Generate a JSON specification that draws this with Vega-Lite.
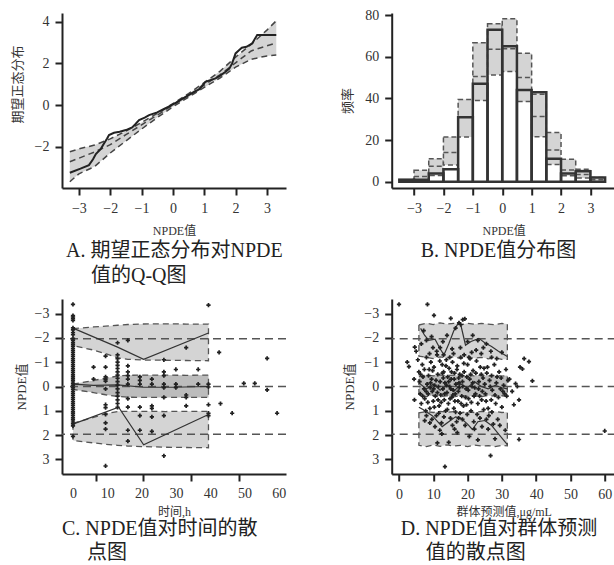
{
"$schema":"https://vega.github.io/schema/vega-lite/v6.json",
"background":"white",
"padding":{"left":11,"top":8,"right":0,"bottom":0},
"columns":2,
"spacing":{"row":111,"column":105.7},
"bounds":"flush",
"config":{
 "view":{"stroke":null},
 "axis":{"grid":false,"format":"d","labelFont":"Liberation Serif, Times New Roman, serif","labelFontSize":14,"labelColor":"#333","domainColor":"#222","domainWidth":2,"tickColor":"#222","tickWidth":2,"tickSize":7,"labelPadding":6,"labelFlush":false,"labelOverlap":false,"titleFont":"Liberation Serif, Times New Roman, serif, Noto Sans CJK SC","titleFontWeight":"normal","titleColor":"#333","titleFontSize":12},
 "title":{"orient":"bottom","anchor":"start","frame":"group","fontSize":20,"font":"Liberation Serif, Times New Roman, serif, Noto Sans CJK SC","fontWeight":"normal","color":"#222","lineHeight":24,"offset":2}
},
"datasets":{
 "qqBand":[{"x":-3.29,"lo":-3.68,"med":-2.72,"hi":-2.24},{"x":-3.0,"lo":-3.3,"med":-2.55,"hi":-2.1},{"x":-2.5,"lo":-2.95,"med":-2.25,"hi":-1.92},{"x":-2.0,"lo":-2.3,"med":-1.9,"hi":-1.62},{"x":-1.5,"lo":-1.72,"med":-1.42,"hi":-1.25},{"x":-1.0,"lo":-1.15,"med":-0.95,"hi":-0.83},{"x":-0.5,"lo":-0.6,"med":-0.48,"hi":-0.4},{"x":0,"lo":-0.08,"med":0,"hi":0.07},{"x":0.5,"lo":0.38,"med":0.47,"hi":0.55},{"x":1.0,"lo":0.85,"med":0.96,"hi":1.08},{"x":1.5,"lo":1.3,"med":1.45,"hi":1.62},{"x":2.0,"lo":1.82,"med":2.03,"hi":2.3},{"x":2.5,"lo":2.2,"med":2.6,"hi":2.92},{"x":3.0,"lo":2.36,"med":2.85,"hi":3.6},{"x":3.3,"lo":2.4,"med":2.98,"hi":4.05}],
 "qqObs":[{"x":-3.29,"y":-3.25},{"x":-2.95,"y":-3.05},{"x":-2.68,"y":-2.88},{"x":-2.55,"y":-2.6},{"x":-2.46,"y":-2.35},{"x":-2.3,"y":-2.1},{"x":-2.2,"y":-1.84},{"x":-2.1,"y":-1.6},{"x":-2.04,"y":-1.44},{"x":-1.88,"y":-1.33},{"x":-1.7,"y":-1.28},{"x":-1.5,"y":-1.2},{"x":-1.3,"y":-1.07},{"x":-1.2,"y":-0.92},{"x":-1.08,"y":-0.72},{"x":-0.9,"y":-0.6},{"x":-0.76,"y":-0.48},{"x":-0.5,"y":-0.35},{"x":-0.3,"y":-0.2},{"x":-0.1,"y":-0.05},{"x":0.1,"y":0.12},{"x":0.3,"y":0.3},{"x":0.5,"y":0.48},{"x":0.7,"y":0.65},{"x":0.83,"y":0.75},{"x":0.95,"y":0.95},{"x":1.04,"y":1.12},{"x":1.2,"y":1.2},{"x":1.36,"y":1.28},{"x":1.5,"y":1.4},{"x":1.68,"y":1.6},{"x":1.8,"y":1.75},{"x":1.89,"y":2.0},{"x":2.0,"y":2.48},{"x":2.1,"y":2.62},{"x":2.2,"y":2.75},{"x":2.35,"y":2.8},{"x":2.53,"y":2.96},{"x":2.69,"y":3.36},{"x":3.3,"y":3.36}],
 "hist":[{"x0":-3.5,"x1":-3.0,"n":1,"lo":0,"med":0.3,"hi":1},{"x0":-3.0,"x1":-2.5,"n":1,"lo":0.3,"med":2.5,"hi":5.5},{"x0":-2.5,"x1":-2.0,"n":4,"lo":3,"med":7.5,"hi":11},{"x0":-2.0,"x1":-1.5,"n":6,"lo":8,"med":14,"hi":21.5},{"x0":-1.5,"x1":-1.0,"n":31,"lo":21.5,"med":31,"hi":39.5},{"x0":-1.0,"x1":-0.5,"n":47,"lo":39,"med":50.5,"hi":66.7},{"x0":-0.5,"x1":0,"n":73,"lo":51.3,"med":63.6,"hi":75.8},{"x0":0,"x1":0.5,"n":65,"lo":52.9,"med":63.8,"hi":78.2},{"x0":0.5,"x1":1.0,"n":44,"lo":38.5,"med":50,"hi":61.7},{"x0":1.0,"x1":1.5,"n":43,"lo":21.6,"med":31.3,"hi":42},{"x0":1.5,"x1":2.0,"n":11,"lo":8.3,"med":15.2,"hi":23.6},{"x0":2.0,"x1":2.5,"n":4,"lo":2.9,"med":5.6,"hi":10.8},{"x0":2.5,"x1":3.0,"n":5,"lo":1.8,"med":3.5,"hi":6},{"x0":3.0,"x1":3.5,"n":2,"lo":0,"med":1,"hi":2}],
 "ref":[{"v":-1.96},{"v":0},{"v":1.96}],
 "cBand":[{"band":"u","t":0,"lo":-2.38,"hi":-1.68},{"band":"u","t":6,"lo":-2.45,"hi":-1.5},{"band":"u","t":9.5,"lo":-2.48,"hi":-1.35},{"band":"u","t":13,"lo":-2.52,"hi":-1.18},{"band":"u","t":16,"lo":-2.55,"hi":-1.12},{"band":"u","t":20,"lo":-2.57,"hi":-1.09},{"band":"u","t":27,"lo":-2.58,"hi":-1.08},{"band":"u","t":33,"lo":-2.57,"hi":-1.07},{"band":"u","t":39.5,"lo":-2.57,"hi":-1.06},
  {"band":"m","t":0,"lo":-0.1,"hi":0.12},{"band":"m","t":6,"lo":-0.25,"hi":0.25},{"band":"m","t":9.5,"lo":-0.34,"hi":0.34},{"band":"m","t":13,"lo":-0.43,"hi":0.41},{"band":"m","t":16,"lo":-0.46,"hi":0.44},{"band":"m","t":20,"lo":-0.47,"hi":0.45},{"band":"m","t":27,"lo":-0.47,"hi":0.45},{"band":"m","t":33,"lo":-0.46,"hi":0.45},{"band":"m","t":39.5,"lo":-0.47,"hi":0.45},
  {"band":"l","t":0,"lo":1.52,"hi":2.22},{"band":"l","t":6,"lo":1.27,"hi":2.32},{"band":"l","t":9.5,"lo":1.12,"hi":2.38},{"band":"l","t":13,"lo":1.03,"hi":2.42},{"band":"l","t":16,"lo":1.02,"hi":2.45},{"band":"l","t":20,"lo":1.02,"hi":2.47},{"band":"l","t":27,"lo":1.03,"hi":2.5},{"band":"l","t":33,"lo":1.02,"hi":2.51},{"band":"l","t":39.5,"lo":1.02,"hi":2.52}],
 "cObs":[{"q":"hi","t":0,"v":-2.4},{"q":"hi","t":13,"v":-1.62},{"q":"hi","t":20.6,"v":-1.12},{"q":"hi","t":39.5,"v":-2.2},
  {"q":"mid","t":0,"v":-0.1},{"q":"mid","t":6,"v":-0.05},{"q":"mid","t":13,"v":-0.07},{"q":"mid","t":20.6,"v":0.03},{"q":"mid","t":29,"v":0.03},{"q":"mid","t":39.5,"v":0},
  {"q":"lo","t":0,"v":1.55},{"q":"lo","t":13.3,"v":0.85},{"q":"lo","t":20.6,"v":2.4},{"q":"lo","t":39.5,"v":1.15}],
 "cPts":[{"t":0,"v":-3.38},{"t":0,"v":-2.92},{"t":0,"v":-2.86},{"t":0,"v":-2.79},{"t":0,"v":-2.72},{"t":0,"v":-2.41},{"t":0,"v":-2.33},{"t":0,"v":-2.22},{"t":0,"v":-2.13},{"t":0,"v":-1.98},{"t":0,"v":-1.91},{"t":0,"v":-1.82},{"t":0,"v":-1.74},{"t":0,"v":-1.66},{"t":0,"v":-1.57},{"t":0,"v":-1.49},{"t":0,"v":-1.41},{"t":0,"v":-1.32},{"t":0,"v":-1.24},{"t":0,"v":-1.15},{"t":0,"v":-1.07},{"t":0,"v":-0.99},{"t":0,"v":-0.9},{"t":0,"v":-0.82},{"t":0,"v":-0.73},{"t":0,"v":-0.65},{"t":0,"v":-0.57},{"t":0,"v":-0.48},{"t":0,"v":-0.4},{"t":0,"v":-0.31},{"t":0,"v":-0.23},{"t":0,"v":-0.14},{"t":0,"v":-0.06},{"t":0,"v":0.03},{"t":0,"v":0.11},{"t":0,"v":0.2},{"t":0,"v":0.28},{"t":0,"v":0.36},{"t":0,"v":0.45},{"t":0,"v":0.53},{"t":0,"v":0.62},{"t":0,"v":0.7},{"t":0,"v":0.78},{"t":0,"v":0.87},{"t":0,"v":0.95},{"t":0,"v":1.04},{"t":0,"v":1.12},{"t":0,"v":1.2},{"t":0,"v":1.29},{"t":0,"v":1.37},{"t":0,"v":1.46},{"t":0,"v":1.54},{"t":0,"v":1.62},{"t":0,"v":2.05},
  {"t":6,"v":-0.8},{"t":6,"v":-0.3},
  {"t":9.5,"v":-1.25},{"t":9.5,"v":-0.8},{"t":9.5,"v":-0.4},{"t":9.5,"v":-0.3},{"t":9.5,"v":-0.22},{"t":9.5,"v":0.1},{"t":9.5,"v":0.75},{"t":9.5,"v":0.87},{"t":9.5,"v":1.15},{"t":9.5,"v":1.5},{"t":9.5,"v":1.75},{"t":9.5,"v":3.27},
  {"t":13,"v":-1.8},{"t":13,"v":-1.3},{"t":13,"v":-1.15},{"t":13,"v":-1.0},{"t":13,"v":-0.87},{"t":13,"v":-0.74},{"t":13,"v":-0.6},{"t":13,"v":-0.47},{"t":13,"v":-0.34},{"t":13,"v":-0.2},{"t":13,"v":-0.06},{"t":13,"v":0.1},{"t":13,"v":0.25},{"t":13,"v":0.4},{"t":13,"v":0.55},{"t":13,"v":0.7},{"t":13,"v":0.86},
  {"t":16,"v":-1.9},{"t":16,"v":-0.85},{"t":16,"v":-0.6},{"t":16,"v":-0.45},{"t":16,"v":-0.3},{"t":16,"v":-0.1},{"t":16,"v":0.5},{"t":16,"v":0.85},{"t":16,"v":1.8},{"t":16,"v":2.25},
  {"t":19.5,"v":-0.4},{"t":19.5,"v":-0.25},{"t":19.5,"v":-0.1},{"t":19.5,"v":0.85},{"t":19.5,"v":1.2},{"t":19.5,"v":1.8},
  {"t":23,"v":-0.3},{"t":23,"v":-0.1},{"t":23,"v":0.8},{"t":23,"v":0.9},{"t":23,"v":1.25},{"t":23,"v":1.85},
  {"t":26.5,"v":-1.1},{"t":26.5,"v":-0.6},{"t":26.5,"v":-0.45},{"t":26.5,"v":-0.1},{"t":26.5,"v":0.05},{"t":26.5,"v":0.45},{"t":26.5,"v":1.2},{"t":26.5,"v":2.85},
  {"t":30,"v":-0.7},{"t":30,"v":-0.1},{"t":30,"v":0.05},
  {"t":33,"v":-1.6},{"t":33,"v":0.35},{"t":33,"v":0.45},{"t":33,"v":0.8},
  {"t":36.5,"v":-0.7},{"t":36.5,"v":-0.1},
  {"t":39.5,"v":-3.35},{"t":39.5,"v":-0.1},{"t":39.5,"v":0.02},{"t":39.5,"v":0.75},{"t":39.5,"v":1.1},{"t":39.5,"v":1.2},
  {"t":42.6,"v":-1.4},{"t":43,"v":0.7},{"t":46.4,"v":1.1},{"t":49.8,"v":-0.13},{"t":53,"v":-0.13},{"t":56.6,"v":-1.16},{"t":56.6,"v":0.14},{"t":59.5,"v":1.1}],
 "dBand":[{"band":"u","p":5.8,"lo":-2.53,"hi":-1.25},{"band":"u","p":8,"lo":-2.6,"hi":-1.2},{"band":"u","p":10,"lo":-2.55,"hi":-1.15},{"band":"u","p":12,"lo":-2.62,"hi":-1.22},{"band":"u","p":14,"lo":-2.57,"hi":-1.17},{"band":"u","p":16,"lo":-2.6,"hi":-1.22},{"band":"u","p":18,"lo":-2.54,"hi":-1.15},{"band":"u","p":20,"lo":-2.6,"hi":-1.2},{"band":"u","p":22,"lo":-2.56,"hi":-1.16},{"band":"u","p":24,"lo":-2.6,"hi":-1.2},{"band":"u","p":26,"lo":-2.57,"hi":-1.14},{"band":"u","p":28,"lo":-2.54,"hi":-1.18},{"band":"u","p":30,"lo":-2.6,"hi":-1.12},{"band":"u","p":31.6,"lo":-2.57,"hi":-1.12},
  {"band":"m","p":5.8,"lo":-0.42,"hi":0.38},{"band":"m","p":8,"lo":-0.47,"hi":0.42},{"band":"m","p":10,"lo":-0.44,"hi":0.36},{"band":"m","p":12,"lo":-0.48,"hi":0.41},{"band":"m","p":14,"lo":-0.45,"hi":0.38},{"band":"m","p":16,"lo":-0.47,"hi":0.43},{"band":"m","p":18,"lo":-0.43,"hi":0.37},{"band":"m","p":20,"lo":-0.46,"hi":0.41},{"band":"m","p":22,"lo":-0.44,"hi":0.38},{"band":"m","p":24,"lo":-0.47,"hi":0.42},{"band":"m","p":26,"lo":-0.44,"hi":0.37},{"band":"m","p":28,"lo":-0.46,"hi":0.4},{"band":"m","p":30,"lo":-0.43,"hi":0.38},{"band":"m","p":31.6,"lo":-0.45,"hi":0.41},
  {"band":"l","p":5.8,"lo":1.08,"hi":2.42},{"band":"l","p":8,"lo":1.03,"hi":2.47},{"band":"l","p":10,"lo":1.07,"hi":2.41},{"band":"l","p":12,"lo":1.02,"hi":2.46},{"band":"l","p":14,"lo":1.06,"hi":2.4},{"band":"l","p":16,"lo":1.03,"hi":2.45},{"band":"l","p":18,"lo":1.08,"hi":2.42},{"band":"l","p":20,"lo":1.04,"hi":2.47},{"band":"l","p":22,"lo":1.07,"hi":2.41},{"band":"l","p":24,"lo":1.02,"hi":2.45},{"band":"l","p":26,"lo":1.06,"hi":2.43},{"band":"l","p":28,"lo":1.03,"hi":2.47},{"band":"l","p":30,"lo":1.07,"hi":2.42},{"band":"l","p":31.6,"lo":1.05,"hi":2.44}],
 "dObs":[{"q":"hi","p":6.3,"v":-2.39},{"q":"hi","p":7.5,"v":-2.1},{"q":"hi","p":8.7,"v":-1.9},{"q":"hi","p":10.5,"v":-1.95},{"q":"hi","p":12,"v":-1.55},{"q":"hi","p":13.1,"v":-1.3},{"q":"hi","p":14.5,"v":-1.75},{"q":"hi","p":16,"v":-2.3},{"q":"hi","p":17.5,"v":-2.66},{"q":"hi","p":18,"v":-2.55},{"q":"hi","p":19.4,"v":-1.7},{"q":"hi","p":21,"v":-1.85},{"q":"hi","p":23.3,"v":-1.98},{"q":"hi","p":25,"v":-1.8},{"q":"hi","p":27,"v":-1.65},{"q":"hi","p":29,"v":-1.45},{"q":"hi","p":31.6,"v":-1.23},
  {"q":"mid","p":5.8,"v":-0.15},{"q":"mid","p":8,"v":0.1},{"q":"mid","p":10,"v":-0.1},{"q":"mid","p":12,"v":0.15},{"q":"mid","p":14,"v":-0.05},{"q":"mid","p":16,"v":0.2},{"q":"mid","p":18,"v":-0.1},{"q":"mid","p":20,"v":0.05},{"q":"mid","p":22,"v":-0.2},{"q":"mid","p":24,"v":0},{"q":"mid","p":26,"v":0.1},{"q":"mid","p":28,"v":-0.05},{"q":"mid","p":30,"v":0.05},{"q":"mid","p":31.6,"v":0.1},
  {"q":"lo","p":5.8,"v":0.85},{"q":"lo","p":7,"v":0.95},{"q":"lo","p":9.7,"v":1.2},{"q":"lo","p":12.6,"v":1.65},{"q":"lo","p":14.5,"v":1.45},{"q":"lo","p":16.5,"v":1.25},{"q":"lo","p":18,"v":1.3},{"q":"lo","p":20,"v":1.55},{"q":"lo","p":21.4,"v":1.77},{"q":"lo","p":23,"v":1.45},{"q":"lo","p":25,"v":1.4},{"q":"lo","p":27,"v":1.6},{"q":"lo","p":29,"v":1.95},{"q":"lo","p":31.6,"v":2.39}],
 "dPts":[{"p":0,"v":-3.38},{"p":8.3,"v":-3.38},{"p":10.2,"v":-2.93},{"p":15.1,"v":-2.8},{"p":18.6,"v":-2.75},{"p":19.2,"v":-2.78},{"p":2.4,"v":-1.0},{"p":2.9,"v":-0.82},{"p":4.6,"v":-1.62},{"p":5.0,"v":-1.45},{"p":4.4,"v":-0.3},{"p":4.5,"v":0.55},{"p":35.3,"v":-0.8},{"p":36.0,"v":-0.72},{"p":37.9,"v":-1.02},{"p":38.9,"v":-0.23},{"p":34.0,"v":-0.12},{"p":34.5,"v":0.0},{"p":35.0,"v":0.55},{"p":35.0,"v":2.18},{"p":26.7,"v":2.84},{"p":13.4,"v":3.3},{"p":11.2,"v":2.32},{"p":60,"v":1.83},{"p":33.5,"v":0.75},{"p":36.5,"v":-1.15},{"p":32.2,"v":-0.3},{"p":33,"v":0.2},
  {"p":7.2,"v":-2.3},{"p":8.0,"v":-1.9},{"p":9.5,"v":-2.05},{"p":12.0,"v":-1.6},{"p":14.0,"v":-2.1},{"p":16.5,"v":-2.4},{"p":17.5,"v":-2.62},{"p":18.0,"v":-2.55},{"p":20.0,"v":-1.85},{"p":21.5,"v":-2.1},{"p":22.5,"v":-1.5},{"p":24.0,"v":-1.35},{"p":25.5,"v":-1.75},{"p":27.0,"v":-1.2},{"p":28.5,"v":-1.15},{"p":30.0,"v":-1.4},{"p":6.5,"v":-1.75},{"p":11.0,"v":-1.45},{"p":13.0,"v":-1.3},{"p":15.5,"v":-1.55},{"p":19.0,"v":-1.3},{"p":23.0,"v":-1.9},
  {"p":5.5,"v":-1.1},{"p":5.8,"v":-0.6},{"p":6.0,"v":-0.2},{"p":6.2,"v":0.3},{"p":6.5,"v":0.7},{"p":6.8,"v":-0.9},{"p":7.0,"v":-0.4},{"p":7.3,"v":0.1},{"p":7.5,"v":0.5},{"p":7.8,"v":1.0},{"p":8.0,"v":-1.2},{"p":8.2,"v":-0.1},{"p":8.5,"v":0.3},{"p":8.8,"v":-0.7},{"p":9.0,"v":0.9},
  {"p":9.3,"v":-1.0},{"p":9.5,"v":-0.3},{"p":9.7,"v":0.2},{"p":10.0,"v":0.6},{"p":10.2,"v":-0.8},{"p":10.4,"v":-0.05},{"p":10.6,"v":0.4},{"p":10.9,"v":1.2},{"p":11.1,"v":-1.3},{"p":11.3,"v":-0.5},{"p":11.5,"v":0.0},{"p":11.7,"v":0.8},{"p":12.0,"v":-0.2},{"p":12.2,"v":0.35},{"p":12.4,"v":1.5},{"p":12.6,"v":-0.9},
  {"p":12.8,"v":0.1},{"p":13.0,"v":-0.6},{"p":13.2,"v":0.55},{"p":13.4,"v":-0.15},{"p":13.6,"v":1.0},{"p":13.8,"v":-1.1},{"p":14.0,"v":0.25},{"p":14.2,"v":-0.4},{"p":14.4,"v":0.7},{"p":14.6,"v":-0.75},{"p":14.8,"v":0.0},{"p":15.0,"v":1.3},{"p":15.2,"v":-0.3},{"p":15.4,"v":0.45},{"p":15.6,"v":-1.0},{"p":15.8,"v":0.15},{"p":16.0,"v":0.9},
  {"p":16.2,"v":-0.55},{"p":16.4,"v":0.3},{"p":16.6,"v":-0.1},{"p":16.8,"v":1.45},{"p":17.0,"v":-0.85},{"p":17.2,"v":0.6},{"p":17.4,"v":-0.35},{"p":17.6,"v":0.05},{"p":17.8,"v":1.1},{"p":18.0,"v":-1.2},{"p":18.3,"v":0.4},{"p":18.5,"v":-0.2},{"p":18.8,"v":0.8},{"p":19.0,"v":-0.6},{"p":19.3,"v":1.6},{"p":19.6,"v":0.1},
  {"p":20.0,"v":-0.9},{"p":20.3,"v":0.5},{"p":20.6,"v":-0.3},{"p":21.0,"v":1.0},{"p":21.3,"v":0.0},{"p":21.6,"v":-0.65},{"p":22.0,"v":1.75},{"p":22.3,"v":0.3},{"p":22.6,"v":-1.05},{"p":23.0,"v":0.7},{"p":23.3,"v":-0.2},{"p":23.6,"v":1.3},{"p":24.0,"v":-0.5},{"p":24.3,"v":0.2},{"p":24.7,"v":0.95},{"p":25.0,"v":-0.1},
  {"p":25.4,"v":0.6},{"p":25.8,"v":-0.8},{"p":26.2,"v":1.2},{"p":26.6,"v":0.0},{"p":27.0,"v":-0.45},{"p":27.5,"v":1.55},{"p":28.0,"v":0.35},{"p":28.4,"v":-0.15},{"p":28.8,"v":1.35},{"p":29.2,"v":-0.6},{"p":29.6,"v":0.1},{"p":30.0,"v":0.85},{"p":30.5,"v":-0.05},{"p":31.0,"v":1.8},{"p":31.4,"v":0.4},{"p":31.8,"v":-0.25},
  {"p":7.5,"v":1.4},{"p":9.0,"v":1.5},{"p":10.5,"v":1.65},{"p":12.5,"v":1.95},{"p":14.5,"v":2.3},{"p":17.0,"v":1.9},{"p":20.5,"v":2.05},{"p":23.0,"v":2.2},{"p":26.0,"v":1.75},{"p":28.0,"v":2.15},{"p":8.0,"v":1.2},{"p":18.5,"v":1.35},
  {"p":8.6,"v":-0.45},{"p":9.1,"v":0.05},{"p":9.8,"v":-0.65},{"p":10.3,"v":0.85},{"p":10.8,"v":-0.25},{"p":11.4,"v":0.55},{"p":11.9,"v":-1.05},{"p":12.3,"v":0.65},{"p":12.9,"v":-0.35},{"p":13.3,"v":0.3},{"p":13.7,"v":-0.85},{"p":14.1,"v":0.95},{"p":14.5,"v":-0.2},{"p":14.9,"v":0.5},{"p":15.3,"v":-0.6},{"p":15.7,"v":0.35},{"p":16.1,"v":-0.3},{"p":16.5,"v":1.05},{"p":16.9,"v":-0.7},{"p":17.3,"v":0.2},{"p":17.7,"v":-0.5},{"p":18.1,"v":0.7},{"p":18.6,"v":0.0},{"p":18.9,"v":-0.95},{"p":19.4,"v":0.45},{"p":19.8,"v":-0.4},{"p":20.2,"v":0.15},{"p":20.7,"v":-1.15},{"p":21.1,"v":0.65},{"p":21.5,"v":-0.15},{"p":21.9,"v":0.4},{"p":22.4,"v":-0.55},{"p":22.8,"v":1.15},{"p":23.2,"v":0.1},{"p":23.7,"v":-0.8},{"p":24.1,"v":0.55},{"p":24.5,"v":-0.35},{"p":25.2,"v":0.3},{"p":25.6,"v":-0.55},{"p":26.0,"v":0.9},{"p":26.4,"v":-0.25},{"p":27.2,"v":0.15},{"p":27.8,"v":-0.9},{"p":28.2,"v":0.7},{"p":29.0,"v":0.45},{"p":29.8,"v":-0.35},{"p":30.3,"v":0.2},{"p":31.2,"v":-0.7},
  {"p":6.3,"v":-0.5},{"p":6.9,"v":0.4},{"p":7.4,"v":-0.7},{"p":7.9,"v":0.2},{"p":8.4,"v":0.65},{"p":9.2,"v":-0.15},{"p":10.1,"v":0.1},{"p":11.2,"v":0.25},{"p":12.7,"v":-0.55},{"p":13.9,"v":-0.05},{"p":15.1,"v":0.1},{"p":16.3,"v":0.6},{"p":17.5,"v":-0.15},{"p":18.4,"v":-0.45},{"p":19.7,"v":0.75},{"p":20.9,"v":-0.5},{"p":22.1,"v":0.05},{"p":23.5,"v":0.4},{"p":24.8,"v":-0.75},{"p":26.9,"v":0.55},{"p":28.6,"v":-0.4},{"p":30.8,"v":0.3},
  {"p":9.9,"v":-1.6},{"p":12.8,"v":-1.85},{"p":15.9,"v":-1.35},{"p":17.9,"v":-1.6},{"p":21.2,"v":-1.4},{"p":24.6,"v":-1.6},{"p":26.8,"v":-1.45},{"p":8.9,"v":-1.35},{"p":14.8,"v":-1.2},{"p":20.4,"v":-1.2},
  {"p":9.6,"v":1.35},{"p":11.6,"v":1.1},{"p":13.1,"v":1.25},{"p":15.6,"v":1.6},{"p":17.4,"v":1.3},{"p":19.9,"v":1.15},{"p":21.8,"v":1.45},{"p":24.2,"v":1.65},{"p":27.1,"v":1.05},{"p":29.4,"v":1.6},{"p":11.9,"v":1.8},{"p":16.2,"v":1.75},{"p":25.5,"v":1.35}]
},
"concat":[
 {"width":224,"height":175,
  "title":{"text":["A. 期望正态分布对NPDE","\u200b\u3000\u00a0值的Q-Q图"],"dx":4,"offset":5,"lineHeight":25},
  "layer":[
   {"data":{"name":"qqBand"},"mark":{"type":"area","fill":"#d4d4d4"},
    "encoding":{"x":{"field":"x","type":"quantitative","scale":{"domain":[-3.54,3.61],"nice":false,"zero":false},"axis":{"values":[-3,-2,-1,0,1,2,3],"format":"d","tickCount":20,"labelOverlap":false,"title":"NPDE值","titleY":42,"titleBaseline":"middle"}},
     "y":{"field":"lo","type":"quantitative","scale":{"domain":[-3.98,4.42],"nice":false,"zero":false},"axis":{"values":[-2,0,2,4],"format":"d","tickCount":20,"labelOverlap":false,"title":"期望正态分布","titleX":-45,"titleY":71,"titleBaseline":"middle","titleFontSize":13}},"y2":{"field":"hi"}}},
   {"data":{"name":"qqBand"},"mark":{"type":"line","stroke":"#444","strokeWidth":1.5,"strokeDash":[6,4]},
    "encoding":{"x":{"field":"x","type":"quantitative","scale":{"domain":[-3.54,3.61],"nice":false,"zero":false}},"y":{"field":"hi","type":"quantitative","scale":{"domain":[-3.98,4.42],"nice":false,"zero":false}}}},
   {"data":{"name":"qqBand"},"mark":{"type":"line","stroke":"#444","strokeWidth":1.5,"strokeDash":[6,4]},
    "encoding":{"x":{"field":"x","type":"quantitative","scale":{"domain":[-3.54,3.61],"nice":false,"zero":false}},"y":{"field":"lo","type":"quantitative","scale":{"domain":[-3.98,4.42],"nice":false,"zero":false}}}},
   {"data":{"name":"qqBand"},"mark":{"type":"line","stroke":"#444","strokeWidth":1.5,"strokeDash":[6,4]},
    "encoding":{"x":{"field":"x","type":"quantitative","scale":{"domain":[-3.54,3.61],"nice":false,"zero":false}},"y":{"field":"med","type":"quantitative","scale":{"domain":[-3.98,4.42],"nice":false,"zero":false}}}},
   {"data":{"name":"qqObs"},"mark":{"type":"line","stroke":"#222","strokeWidth":2},
    "encoding":{"x":{"field":"x","type":"quantitative","scale":{"domain":[-3.54,3.61],"nice":false,"zero":false}},"y":{"field":"y","type":"quantitative","scale":{"domain":[-3.98,4.42],"nice":false,"zero":false}}}}
  ]},
 {"width":224,"height":175,
  "title":{"text":"B. NPDE值分布图","dx":29,"offset":5},
  "layer":[
   {"data":{"name":"hist"},"mark":{"type":"rect","fill":"#d4d4d4","stroke":"#555","strokeWidth":1.5,"strokeDash":[5,3]},
    "encoding":{"x":{"field":"x0","type":"quantitative","scale":{"domain":[-3.76,3.86],"nice":false,"zero":false},"axis":{"values":[-3,-2,-1,0,1,2,3],"format":"d","tickCount":20,"labelOverlap":false,"title":"NPDE值","titleY":42,"titleBaseline":"middle"}},"x2":{"field":"x1"},
     "y":{"field":"lo","type":"quantitative","scale":{"domain":[-3,81],"nice":false,"zero":false},"axis":{"values":[0,20,40,60,80],"format":"d","tickCount":20,"labelOverlap":false,"title":"频率","titleX":-44.7,"titleBaseline":"middle","titleFontSize":13}},"y2":{"field":"hi"}}},
   {"data":{"name":"hist"},"mark":{"type":"rule","stroke":"#555","strokeWidth":1.5,"strokeDash":[5,3]},
    "encoding":{"x":{"field":"x0","type":"quantitative","scale":{"domain":[-3.76,3.86],"nice":false,"zero":false}},"x2":{"field":"x1"},"y":{"field":"med","type":"quantitative","scale":{"domain":[-3,81],"nice":false,"zero":false}}}},
   {"data":{"name":"hist"},"mark":{"type":"rect","filled":false,"stroke":"#333","strokeWidth":2.5},
    "encoding":{"x":{"field":"x0","type":"quantitative","scale":{"domain":[-3.76,3.86],"nice":false,"zero":false}},"x2":{"field":"x1"},"y":{"field":"n","type":"quantitative","scale":{"domain":[-3,81],"nice":false,"zero":false}},"y2":{"datum":0}}}
  ]},
 {"width":224,"height":175,
  "title":{"text":["C. NPDE值对时间的散","\u200b\u3000\u00a0点图"],"dx":0},
  "resolve":{"axis":{"x":"independent"}},
  "layer":[
   {"data":{"name":"cBand"},"mark":{"type":"area","stroke":"#555","strokeWidth":1.3,"strokeDash":[6,4]},
    "encoding":{"x":{"field":"t","type":"quantitative","scale":{"domain":[-3.2,62.1],"nice":false,"zero":false},"axis":{"orient":"bottom","values":[0,10,20,30,40,50,60],"format":"d","tickCount":20,"labelOverlap":false,"ticks":false,"title":"时间,h","titleY":37,"titleBaseline":"middle","labelPadding":12}},
     "y":{"field":"lo","type":"quantitative","scale":{"domain":[-3.6,3.6],"reverse":true,"nice":false,"zero":false},"axis":{"values":[-3,-2,-1,0,1,2,3],"format":"d","tickCount":20,"labelOverlap":false,"title":"NPDE值","titleX":-40.5,"titleBaseline":"middle","titleFontSize":13}},"y2":{"field":"hi"},
     "fill":{"field":"band","type":"nominal","scale":{"domain":["u","m","l"],"range":["#d4d4d4","#bcbcbc","#d4d4d4"]},"legend":null},"detail":{"field":"band"}}},
   {"data":{"name":"ref"},"mark":{"type":"rule","stroke":"#555","strokeWidth":1.5,"strokeDash":[8,5]},
    "encoding":{"y":{"field":"v","type":"quantitative","scale":{"domain":[-3.6,3.6],"reverse":true,"nice":false,"zero":false}}}},
   {"data":{"name":"cObs"},"mark":{"type":"line","stroke":"#333","strokeWidth":1.2},
    "encoding":{"x":{"field":"t","type":"quantitative","scale":{"domain":[-3.2,62.1],"nice":false,"zero":false},"axis":null},"y":{"field":"v","type":"quantitative","scale":{"domain":[-3.6,3.6],"reverse":true,"nice":false,"zero":false}},"detail":{"field":"q"}}},
   {"data":{"name":"cPts"},"mark":{"type":"point","shape":"cross","filled":true,"size":18,"color":"#222","opacity":1},
    "encoding":{"x":{"field":"t","type":"quantitative","scale":{"domain":[-3.2,62.1],"nice":false,"zero":false},"axis":{"orient":"bottom","values":[6.6,20.5,34.4,48.3],"tickCount":20,"labels":false,"domain":false,"title":null}},"y":{"field":"v","type":"quantitative","scale":{"domain":[-3.6,3.6],"reverse":true,"nice":false,"zero":false}}}}
  ]},
 {"width":224,"height":175,
  "title":{"text":["D. NPDE值对群体预测","\u200b\u3000\u00a0值的散点图"],"dx":9},
  "layer":[
   {"data":{"name":"dBand"},"mark":{"type":"area","stroke":"#555","strokeWidth":1.3,"strokeDash":[6,4]},
    "encoding":{"x":{"field":"p","type":"quantitative","scale":{"domain":[-2.13,63.2],"nice":false,"zero":false},"axis":{"values":[0,10,20,30,40,50,60],"format":"d","tickCount":20,"labelOverlap":false,"title":"群体预测值,μg/mL","titleY":37,"titleBaseline":"middle"}},
     "y":{"field":"lo","type":"quantitative","scale":{"domain":[-3.6,3.6],"reverse":true,"nice":false,"zero":false},"axis":{"values":[-3,-2,-1,0,1,2,3],"format":"d","tickCount":20,"labelOverlap":false,"title":"NPDE值","titleX":-42.7,"titleBaseline":"middle","titleFontSize":13}},"y2":{"field":"hi"},
     "fill":{"field":"band","type":"nominal","scale":{"domain":["u","m","l"],"range":["#d4d4d4","#bcbcbc","#d4d4d4"]},"legend":null},"detail":{"field":"band"}}},
   {"data":{"name":"ref"},"mark":{"type":"rule","stroke":"#555","strokeWidth":1.5,"strokeDash":[8,5]},
    "encoding":{"y":{"field":"v","type":"quantitative","scale":{"domain":[-3.6,3.6],"reverse":true,"nice":false,"zero":false}}}},
   {"data":{"name":"dObs"},"mark":{"type":"line","stroke":"#333","strokeWidth":1.2},
    "encoding":{"x":{"field":"p","type":"quantitative","scale":{"domain":[-2.13,63.2],"nice":false,"zero":false}},"y":{"field":"v","type":"quantitative","scale":{"domain":[-3.6,3.6],"reverse":true,"nice":false,"zero":false}},"detail":{"field":"q"}}},
   {"data":{"name":"dPts"},"mark":{"type":"point","shape":"cross","filled":true,"size":18,"color":"#222","opacity":1},
    "encoding":{"x":{"field":"p","type":"quantitative","scale":{"domain":[-2.13,63.2],"nice":false,"zero":false}},"y":{"field":"v","type":"quantitative","scale":{"domain":[-3.6,3.6],"reverse":true,"nice":false,"zero":false}}}}
  ]}
]
}
